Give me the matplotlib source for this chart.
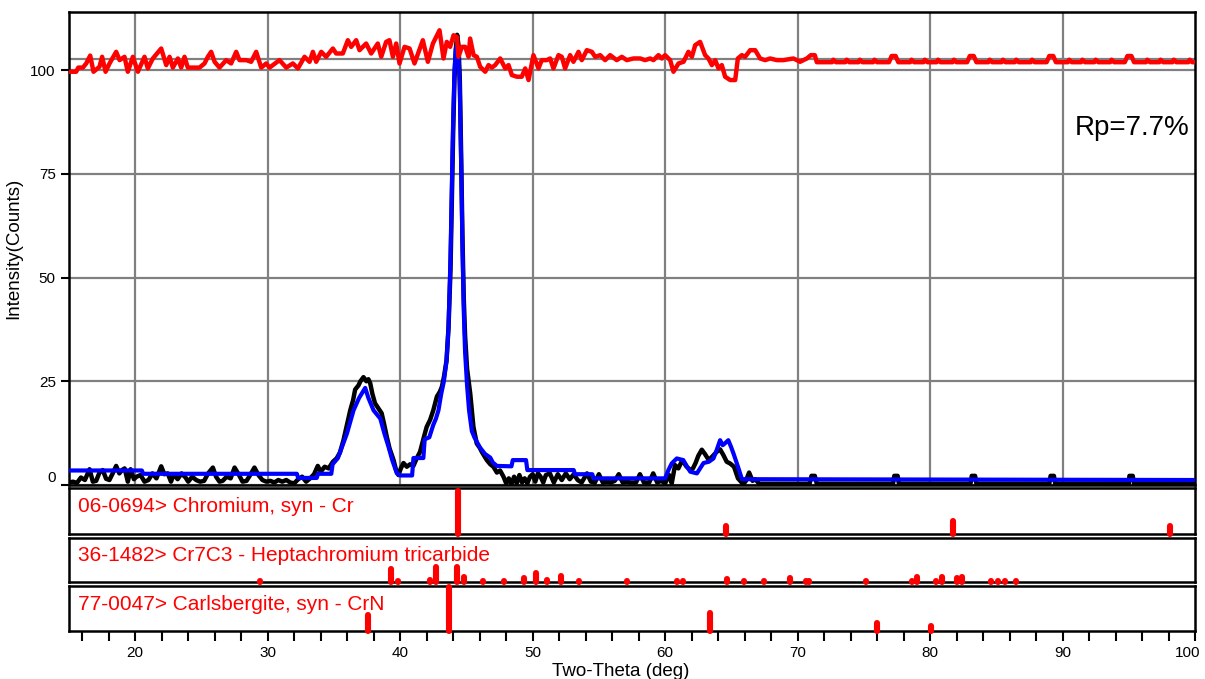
import numpy as np
import matplotlib.pyplot as plt
from matplotlib.transforms import ScaledTranslation

plt.rcParams['font.family'] = ['Liberation Sans', 'DejaVu Sans']

# observed pattern (black)
obs_x = [15.0, 15.3, 15.6, 15.9, 16.2, 16.55, 16.8, 17.05, 17.3, 17.55, 17.8, 18.05, 18.3, 18.56, 18.8, 19.0,
         19.2, 19.44, 19.65, 19.9, 20.1, 20.4, 20.7, 21.0, 21.3, 21.6, 21.96, 22.2, 22.45, 22.7, 22.9, 23.2,
         23.5, 23.8, 24.0, 24.3, 24.6, 24.9, 25.2, 25.5, 25.86, 26.1, 26.36, 26.6, 26.9, 27.2, 27.5, 27.8,
         28.1, 28.4, 28.6, 29.0, 29.3, 29.6, 29.9, 30.2, 30.5, 30.8, 31.1, 31.4, 31.7, 32.0, 32.3, 32.6,
         32.9, 33.2, 33.5, 33.78, 34.0, 34.3, 34.6, 34.92, 35.2, 35.45, 35.72, 35.95, 36.23, 36.45, 36.6, 36.85,
         37.0, 37.23, 37.45, 37.6, 37.74, 37.9, 38.1, 38.35, 38.6, 38.8, 38.99, 39.2, 39.5, 39.7, 39.87, 40.05,
         40.25, 40.5, 40.75, 41.0, 41.26, 41.5, 41.77, 42.0, 42.26, 42.5, 42.77, 43.0, 43.15, 43.3, 43.5, 43.65,
         43.8, 43.9, 44.0, 44.1, 44.2, 44.3, 44.4, 44.5, 44.6, 44.7, 44.8, 44.9, 45.05, 45.29, 45.53, 45.78,
         46.0, 46.16, 46.54, 46.8, 47.04, 47.3, 47.54, 47.8, 48.0, 48.2, 48.4, 48.6, 48.8, 49.0, 49.2, 49.4,
         49.6, 49.8, 50.0, 50.2, 50.4, 50.6, 50.8, 51.0, 51.3, 51.6, 51.9, 52.2, 52.5, 52.8, 53.1, 53.4,
         53.7, 54.1, 54.4, 54.7, 55.0, 55.3, 55.6, 55.9, 56.2, 56.5, 56.8, 57.1, 57.4, 57.8, 58.1, 58.4,
         58.8, 59.1, 59.4, 59.7, 60.0, 60.3, 60.5, 60.75, 61.0, 61.3, 61.6, 61.9, 62.1, 62.3, 62.5, 62.77,
         63.0, 63.3, 63.6, 63.9, 64.15, 64.4, 64.65, 64.9, 65.2, 65.5, 65.9, 66.1, 66.34, 66.6, 66.8, 67.1,
         70.9, 71.05, 71.3, 71.45, 77.2, 77.3, 77.55, 77.65, 83.05, 83.15, 83.4, 83.5, 89.0, 89.1, 89.35, 89.45,
         95.0, 95.05, 95.3, 95.4, 100.0]
obs_y = [0.6, 0.8, 0.5, 1.8, 1.2, 3.8, 0.8, 1.0, 3.0, 3.6, 1.5, 1.2, 2.8, 4.6, 2.8, 3.6,
         4.0, 0.8, 3.8, 1.4, 2.0, 2.4, 0.8, 1.2, 2.8, 1.6, 4.5, 2.6, 2.8, 0.8, 2.6, 1.4,
         2.8, 1.8, 0.8, 2.0, 1.2, 0.8, 1.0, 2.8, 4.2, 2.0, 0.8, 1.0, 2.0, 1.6, 4.2, 2.6,
         0.8, 1.0, 2.0, 4.2, 2.4, 1.2, 0.8, 1.0, 0.6, 1.2, 0.8, 1.2, 0.6, 0.4, 1.4, 2.0,
         0.8, 1.6, 2.6, 4.6, 3.2, 4.4, 4.0, 5.6, 6.4, 7.8, 10.8, 14.0, 18.0, 20.5, 23.0, 24.0,
         25.0, 26.0, 25.0, 25.5, 24.5, 22.0, 19.7, 18.5, 17.3, 14.5, 11.6, 8.8, 6.0, 3.5, 2.4, 4.0,
         5.3, 4.4, 5.0, 4.6, 6.5, 8.0, 11.3, 14.0, 15.7, 18.0, 21.3, 22.5, 23.7, 26.0, 30.0, 38.0,
         52.0, 68.0, 85.0, 98.0, 105.0, 108.5, 106.0, 98.0, 80.0, 60.0, 45.0, 36.0, 28.0, 22.0, 14.0, 10.0,
         9.0, 8.0, 6.0, 5.0, 4.4, 3.0, 3.5, 2.0, 0.4, 1.6, 0.2, 2.0, 0.4, 2.4, 0.6, 1.6,
         0.4, 2.0, 2.6, 0.8, 2.8, 2.0, 0.6, 2.4, 2.8, 0.6, 2.6, 1.2, 2.8, 1.4, 2.6, 1.2,
         0.6, 2.8, 0.8, 0.6, 2.6, 0.6, 0.8, 0.6, 1.0, 2.6, 0.6, 0.8, 0.6, 0.6, 2.6, 0.6,
         0.6, 2.8, 0.6, 1.0, 0.4, 2.4, 0.4, 4.8, 4.0, 6.0, 4.5, 3.6, 4.0, 5.3, 7.0, 8.5,
         7.5, 6.0, 7.0, 8.0, 8.6, 7.2, 5.6, 5.2, 4.4, 1.6, 0.2, 1.0, 3.0, 1.0, 1.4, 0.3,
         0.3, 2.2, 2.2, 0.3, 0.3, 2.2, 2.2, 0.3, 0.3, 2.2, 2.2, 0.3, 0.3, 2.2, 2.2, 0.3,
         0.3, 2.2, 2.2, 0.3, 0.3]

# calculated pattern (blue)
calc_x = [15.0, 20.5, 20.6, 32.2, 32.3, 33.7, 33.8, 34.8, 34.9, 35.3, 35.98, 36.48, 36.9, 37.36, 37.6, 37.99,
          38.5, 38.8, 39.12, 39.4, 39.75, 40.0, 40.9, 41.0, 41.75, 41.85, 42.2, 42.3, 42.5, 42.7, 42.89, 43.1,
          43.3, 43.5, 43.65, 43.8, 43.9, 44.0, 44.1, 44.2, 44.3, 44.4, 44.5, 44.6, 44.7, 44.8, 44.9, 45.05,
          45.2, 45.41, 45.6, 46.03, 46.4, 46.8, 47.0, 47.3, 48.4, 48.5, 49.5, 49.6, 53.1, 53.2, 54.5, 54.6,
          60.0, 60.25, 60.5, 60.88, 61.37, 61.7, 61.9, 62.4, 62.9, 63.3, 63.65, 63.9, 64.15, 64.35, 64.5, 64.77,
          65.0, 65.16, 65.5, 65.8, 100.0]
calc_y = [3.5, 3.5, 2.7, 2.7, 1.7, 1.7, 2.7, 2.7, 5.0, 6.5, 12.4, 18.0, 21.0, 23.4, 21.0, 18.0,
          16.0, 12.5, 9.2, 6.0, 2.8, 2.3, 2.3, 6.5, 6.5, 11.0, 11.5, 12.5, 14.5, 16.0, 18.0, 22.0,
          25.0, 30.0, 38.0, 55.0, 72.0, 88.0, 100.0, 105.0, 106.0, 104.0, 96.0, 78.0, 58.0, 42.0, 32.0, 24.0,
          18.0, 13.0, 11.5, 9.0, 7.5, 6.6, 5.4, 4.6, 4.5, 6.0, 6.0, 3.6, 3.6, 2.6, 2.6, 1.6,
          1.6, 3.6, 5.2, 6.4, 6.0, 4.2, 3.2, 2.8, 5.3, 5.6, 6.4, 8.5, 10.8, 9.6, 10.0, 10.8,
          9.0, 7.6, 4.4, 1.4, 1.2]

# difference curve (red, offset)
diff_x = [15.0, 15.54, 15.7, 16.05, 16.3, 16.6, 16.85, 17.3, 17.5, 17.76, 18.06, 18.56, 18.82, 19.19, 19.44, 19.82,
          20.2, 20.7, 20.95, 21.33, 21.96, 22.34, 22.59, 22.84, 23.22, 23.47, 23.72, 23.97, 24.85, 25.23, 25.48, 25.73,
          25.99, 26.36, 26.87, 27.24, 27.62, 27.87, 28.38, 28.75, 29.13, 29.51, 29.89, 30.14, 30.89, 31.4, 31.9, 32.28,
          32.78, 33.16, 33.41, 33.66, 34.04, 34.41, 34.92, 35.17, 35.67, 36.05, 36.3, 36.68, 36.93, 37.43, 37.81, 38.31,
          38.57, 38.94, 39.19, 39.45, 39.7, 39.95, 40.33, 40.71, 41.08, 41.71, 42.09, 42.47, 42.97, 43.27, 43.52, 43.77,
          44.03, 44.28, 44.4, 44.66, 44.91, 45.16, 45.28, 45.54, 45.79, 46.04, 46.42, 46.67, 46.92, 47.17, 47.55, 47.93,
          48.18, 48.43, 48.81, 49.18, 49.44, 49.69, 50.06, 50.44, 50.69, 51.07, 51.32, 51.57, 51.95, 52.2, 52.45, 52.83,
          53.08, 53.46, 53.71, 54.09, 54.47, 54.72, 55.1, 55.47, 55.85, 56.35, 56.73, 57.11, 57.61, 58.12, 58.49, 58.87,
          59.12, 59.5, 59.75, 60.0, 60.38, 60.63, 61.01, 61.39, 61.76, 62.02, 62.27, 62.64, 63.02, 63.27, 63.53, 63.78,
          64.03, 64.28, 64.53, 64.91, 65.29, 65.49, 65.79, 66.04, 66.42, 66.8, 67.17, 67.55, 67.93, 68.43, 68.93, 69.69,
          70.19, 70.7, 71.0, 71.3, 71.45, 72.6, 72.7, 72.9, 73.6, 73.7, 73.9, 74.6, 74.7, 74.9, 75.7, 75.8,
          76.0, 76.9, 77.1, 77.4, 77.6, 78.5, 78.6, 78.8, 79.5, 79.6, 79.8, 80.5, 80.6, 80.8, 81.7, 81.8,
          82.0, 82.8, 83.0, 83.3, 83.5, 84.4, 84.5, 84.7, 85.4, 85.5, 85.7, 86.4, 86.5, 86.7, 87.6, 87.7,
          87.9, 88.8, 89.0, 89.3, 89.5, 90.4, 90.5, 90.7, 91.4, 91.5, 91.7, 92.4, 92.5, 92.7, 93.6, 93.7,
          93.9, 94.7, 94.9, 95.2, 95.4, 96.3, 96.4, 96.6, 97.3, 97.4, 97.6, 98.3, 98.4, 98.6, 99.5, 99.6,
          99.8, 100.0]
diff_y = [99.6, 99.6, 100.6, 100.6, 101.6, 103.5, 99.6, 100.8, 103.2, 99.6, 101.6, 104.4, 102.4, 103.2, 99.6, 103.2,
          99.6, 103.2, 100.4, 102.8, 105.2, 101.2, 103.2, 100.6, 102.8, 100.6, 103.2, 100.6, 100.6, 101.6, 103.2, 104.4,
          102.0, 100.6, 102.4, 101.6, 104.4, 102.4, 102.4, 102.0, 104.4, 100.6, 101.6, 100.6, 102.4, 100.6, 101.6, 100.4,
          103.2, 102.0, 104.4, 102.0, 104.4, 103.2, 105.2, 104.0, 104.0, 107.2, 105.6, 107.2, 104.8, 106.4, 104.0, 106.4,
          103.2, 106.8, 107.2, 103.2, 106.4, 101.6, 105.6, 105.2, 101.6, 107.2, 102.0, 106.4, 109.6, 102.8, 106.8, 105.6,
          108.4, 108.0, 103.2, 105.6, 105.6, 103.2, 107.6, 103.6, 103.2, 100.8, 99.6, 101.2, 100.6, 101.2, 102.8, 100.4,
          101.2, 98.8, 98.4, 98.4, 100.4, 97.6, 103.6, 100.4, 102.4, 102.4, 102.8, 100.4, 103.6, 103.2, 100.4, 103.6,
          102.0, 104.4, 102.4, 104.8, 104.4, 103.2, 103.6, 102.4, 103.6, 102.4, 103.2, 102.4, 102.8, 102.8, 102.4, 102.8,
          102.4, 103.6, 102.8, 103.6, 102.4, 99.6, 101.6, 102.0, 104.4, 103.2, 106.0, 106.8, 103.6, 102.8, 101.2, 102.4,
          100.4, 101.2, 98.4, 97.6, 97.6, 102.8, 103.6, 103.2, 104.8, 104.8, 102.8, 102.4, 102.8, 102.4, 102.4, 102.8,
          102.0, 102.8, 103.6, 103.6, 101.9, 101.9, 102.5, 101.9, 101.9, 102.5, 101.9, 101.9, 102.5, 101.9, 101.9, 102.5,
          101.9, 101.9, 103.4, 103.4, 101.9, 101.9, 102.5, 101.9, 101.9, 102.5, 101.9, 101.9, 102.5, 101.9, 101.9, 102.5,
          101.9, 101.9, 103.4, 103.4, 101.9, 101.9, 102.5, 101.9, 101.9, 102.5, 101.9, 101.9, 102.5, 101.9, 101.9, 102.5,
          101.9, 101.9, 103.4, 103.4, 101.9, 101.9, 102.5, 101.9, 101.9, 102.5, 101.9, 101.9, 102.5, 101.9, 101.9, 102.5,
          101.9, 101.9, 103.4, 103.4, 101.9, 101.9, 102.5, 101.9, 101.9, 102.5, 101.9, 101.9, 102.5, 101.9, 101.9, 102.5,
          101.9, 101.9]
diff_zero = 102.6

# reference phases (stick patterns)
cr_label = "06-0694> Chromium, syn - Cr"
cr_pos = [44.39, 64.58, 81.7, 98.12]
cr_int = [93, 17, 29, 18]

c73_label = "36-1482> Cr7C3 - Heptachromium tricarbide"
c73_pos = [29.45, 39.27, 39.85, 42.24, 42.68, 44.27, 44.8, 46.23, 47.83, 49.33, 50.28, 51.12, 52.15, 53.47, 57.1,
           60.92, 61.36, 64.65, 65.93, 67.45, 69.43, 70.62, 70.89, 75.2, 78.64, 79.05, 80.46, 80.89, 82.06, 82.4,
           84.57, 85.1, 85.68, 86.45]
c73_int = [1.5, 29, 3, 5, 35, 35, 11, 1.5, 1.5, 8, 21, 5, 14, 1.5, 1.5,
           1.5, 1.5, 6, 1.5, 1.5, 8, 1.5, 1.5, 1.5, 1.5, 12, 1.5, 12, 9, 12,
           1.5, 1.5, 1.5, 1.5]

crn_label = "77-0047> Carlsbergite, syn - CrN"
crn_pos = [37.56, 43.69, 63.4, 76.0, 80.07]
crn_int = [36, 97, 40, 17, 11]

W, H = 1205, 679
fig = plt.figure(figsize=(W / 100, H / 100), dpi=100)

def frac(x0, y0, x1, y1):
    return [x0 / W, 1 - y1 / H, (x1 - x0) / W, (y1 - y0) / H]

ax = fig.add_axes(frac(69, 12, 1195, 485))
ax.plot(obs_x, obs_y, color='black', lw=3.2, zorder=3)
ax.plot(calc_x, calc_y, color='#0000ff', lw=3.0, zorder=4)
ax.plot(diff_x, diff_y, color='#ff0000', lw=3.2, zorder=5)
ax.axhline(diff_zero, color='#808080', lw=1.6, zorder=1)
ax.set_xlim(15, 100)
ax.set_ylim(0, 114)
ax.set_xticks(np.arange(20, 100, 10))
ax.set_yticks([0, 25, 50, 75, 100])
ax.grid(True, color='#808080', lw=1.6, zorder=0)
ax.set_axisbelow(True)
ax.tick_params(axis='x', length=0, labelbottom=False)
ax.tick_params(axis='y', length=6, width=1.5, labelsize=11, direction='out')
ax.yaxis.get_majorticklabels()[0].set_verticalalignment('bottom')
ax.set_ylabel('Intensity(Counts)', fontsize=13.5, labelpad=6)
for s in ax.spines.values():
    s.set_linewidth(1.8)
ax.text(0.995, 0.755, 'Rp=7.7%', transform=ax.transAxes, ha='right', va='center', fontsize=20)

panels = [(cr_label, cr_pos, cr_int, (488, 534)),
          (c73_label, c73_pos, c73_int, (538, 582)),
          (crn_label, crn_pos, crn_int, (586, 631))]
for i, (lab, pos, inten, (t, b)) in enumerate(panels):
    p = fig.add_axes(frac(69, t, 1195, b))
    p.vlines(pos, 0, inten, colors='#ff0000', lw=4.4, capstyle='round', clip_on=False, zorder=3)
    p.set_xlim(15, 100)
    p.set_ylim(0, 100)
    p.set_yticks([])
    p.text(0.008, 0.6, lab, transform=p.transAxes, color='#ff0000', fontsize=15, va='center', ha='left')
    for s in p.spines.values():
        s.set_linewidth(1.8)
    if i < 2:
        p.set_xticks([])
    else:
        ticks = np.arange(16, 101, 2)
        p.set_xticks(ticks)
        p.set_xticklabels([str(v) if v % 10 == 0 else '' for v in ticks])
        p.tick_params(axis='x', length=7, width=1.5, labelsize=11, direction='out')
        p.set_xlabel('Two-Theta (deg)', fontsize=13.5, labelpad=2)
        p.xaxis.set_label_coords(0.49, -0.72)
        last = p.get_xticklabels()[-1]
        last.set_transform(last.get_transform() + ScaledTranslation(-5 / 72, 0, fig.dpi_scale_trans))

fig.savefig('out.png', dpi=100)
